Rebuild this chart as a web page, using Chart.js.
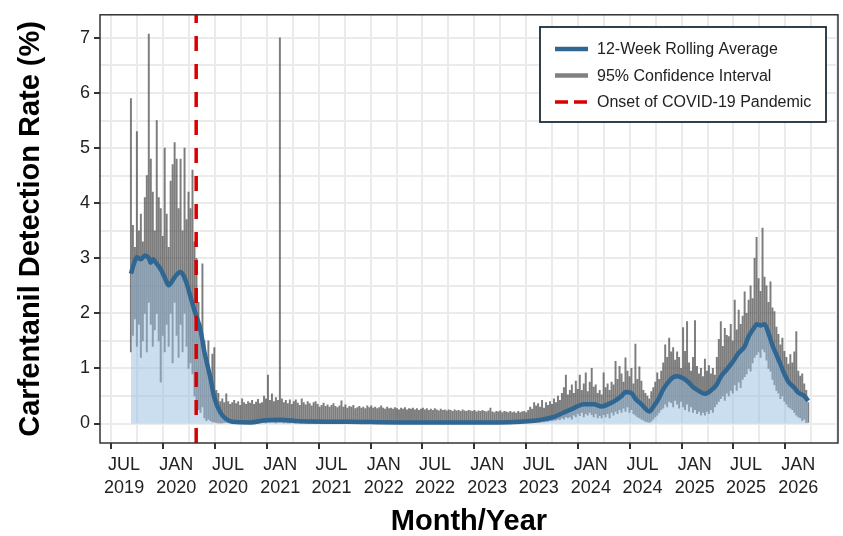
<!DOCTYPE html>
<html>
<head>
<meta charset="utf-8">
<script src="https://cdn.jsdelivr.net/npm/chart.js@4.4.1/dist/chart.umd.min.js"></script>
<style>
  html, body { margin: 0; padding: 0; background: #fff; }
  #wrap { width: 843px; height: 536px; }
</style>
</head>
<body>
<div id="wrap"><canvas id="chart" width="843" height="536"></canvas></div>
<script>
// Weekly series: week 0 starts on firstWeek, one value per week
const firstWeek = "2019-07-25";
const covidOnset = "2020-03-11";

// Major x ticks (JUL / JAN)
const tickMonths = [
  "2019-07-01", "2020-01-01", "2020-07-01", "2021-01-01", "2021-07-01",
  "2022-01-01", "2022-07-01", "2023-01-01", "2023-07-01", "2024-01-01",
  "2024-07-01", "2025-01-01", "2025-07-01", "2026-01-01"
];
const yTicks = [0, 1, 2, 3, 4, 5, 6, 7];

// 95% confidence interval, upper bound (%)
const ciHigh = [
  5.9, 3.6, 3.2, 5.3, 3.5, 3.8, 3.3, 4.1, 4.5, 7.07,
  4.8, 4.2, 3.5, 5.5, 4.1, 3.9, 3.4, 5.0, 3.8, 3.2,
  4.4, 4.7, 5.1, 4.8, 3.9, 4.8, 3.5, 5.0, 3.7, 4.2,
  3.9, 4.6, 3.3, 3.0, 2.2, 1.8, 2.9, 1.5, 1.1, 1.5,
  0.9, 1.26, 1.38, 0.6, 0.55, 0.4, 0.45, 0.38, 0.54, 0.4,
  0.35, 0.38, 0.42, 0.36, 0.4, 0.33, 0.45, 0.38, 0.35, 0.4,
  0.37, 0.42, 0.35, 0.39, 0.44, 0.36, 0.38, 0.5, 0.45, 0.88,
  0.42, 0.54, 0.4, 0.47, 0.42, 7.0, 0.45, 0.38, 0.42, 0.36,
  0.43, 0.35, 0.4, 0.43, 0.37, 0.33, 0.45, 0.38, 0.34, 0.4,
  0.36, 0.32, 0.38, 0.4, 0.35, 0.3, 0.33, 0.37, 0.31, 0.34,
  0.3, 0.33, 0.36, 0.31, 0.29, 0.32, 0.41, 0.3, 0.34, 0.28,
  0.31, 0.3, 0.33, 0.27, 0.29, 0.31, 0.28, 0.3, 0.27, 0.32,
  0.29, 0.32, 0.28, 0.3, 0.27, 0.29, 0.32, 0.28, 0.26, 0.3,
  0.27, 0.28, 0.26, 0.29, 0.27, 0.25, 0.28, 0.26, 0.29, 0.25,
  0.27, 0.26, 0.28, 0.25, 0.27, 0.24, 0.26, 0.28, 0.25, 0.27,
  0.24, 0.26, 0.24, 0.27, 0.25, 0.23, 0.26, 0.24, 0.25, 0.23,
  0.25, 0.24, 0.22, 0.25, 0.23, 0.24, 0.22, 0.25, 0.23, 0.22,
  0.24, 0.23, 0.22, 0.24, 0.21, 0.23, 0.22, 0.24, 0.22, 0.21,
  0.23, 0.28, 0.21, 0.2, 0.22, 0.21, 0.23, 0.2, 0.22, 0.21,
  0.2, 0.22, 0.2, 0.21, 0.19, 0.22, 0.2, 0.21, 0.22, 0.2,
  0.24, 0.3, 0.26, 0.38, 0.32, 0.36, 0.3, 0.42, 0.28, 0.38,
  0.33, 0.4, 0.35, 0.45, 0.38, 0.5, 0.42, 0.55, 0.65, 0.88,
  0.52, 0.6, 0.7, 0.55, 0.77, 0.62, 0.88, 0.6, 0.72, 0.92,
  0.58, 0.75, 1.0, 0.66, 0.7, 0.55, 0.6, 0.52, 0.92, 0.65,
  0.72, 0.6, 0.75, 0.7, 1.13, 0.8, 1.04, 0.9, 0.75, 1.19,
  0.95, 0.85, 1.0, 0.72, 1.44, 0.8, 1.03, 0.77, 0.6, 0.55,
  0.5, 0.45, 0.58, 0.65, 0.75, 0.92, 0.8, 0.95, 1.1, 1.43,
  1.2, 1.55, 1.3, 1.38, 1.15, 1.3, 1.2, 1.0, 1.74, 1.31,
  1.85, 1.1, 0.95, 1.2, 1.87, 1.04, 0.9, 1.0, 0.85, 1.17,
  0.95, 1.05, 0.9, 1.0, 0.88, 1.2, 1.53, 1.85, 1.4, 1.73,
  1.6, 1.58, 1.8, 1.5, 2.24, 1.7, 2.06, 1.8, 1.95, 2.39,
  2.0, 2.24, 2.5, 2.27, 3.0, 3.38, 2.63, 2.4, 3.55, 2.66,
  2.5, 2.2, 2.57, 2.1, 2.03, 1.75, 1.62, 1.43, 1.55, 1.31,
  1.2, 1.08, 1.25, 1.1, 1.3, 1.67, 0.95, 0.86, 0.9, 0.72,
  0.6, 0.38
];

// 95% confidence interval, lower bound (%)
const ciLow = [
  1.3, 1.6, 1.9, 1.4, 1.8, 1.2, 1.5, 2.0, 1.3, 2.2,
  1.8, 1.4, 1.7, 2.0, 1.5, 0.75, 1.6, 1.3, 1.8, 1.4,
  2.0, 1.1, 2.2, 1.6, 1.2, 1.8, 1.3, 2.0, 1.4, 1.0,
  1.1, 0.9, 0.5, 0.35, 0.25, 0.2, 0.3, 0.1, 0.05, 0.08,
  0.05, 0.03, 0.03, 0.02, 0.01, 0.01, 0.01, 0, 0, 0,
  0, 0.01, 0, 0.01, 0.01, 0, 0.01, 0, 0.01, 0,
  0.01, 0.02, 0.01, 0.02, 0.01, 0.02, 0.03, 0.02, 0.01, 0.03,
  0.02, 0.03, 0.02, 0.01, 0.02, 0, 0.02, 0.01, 0.02, 0.01,
  0.01, 0.02, 0.01, 0.01, 0.02, 0.01, 0.01, 0, 0.01, 0.01,
  0.01, 0, 0.01, 0.01, 0, 0.01, 0.01, 0, 0.01, 0,
  0.01, 0.01, 0, 0.01, 0, 0.01, 0.01, 0, 0, 0.01,
  0, 0.01, 0, 0, 0.01, 0, 0, 0.01, 0, 0,
  0.01, 0, 0, 0.01, 0, 0, 0.01, 0, 0, 0,
  0.01, 0, 0, 0, 0.01, 0, 0, 0, 0.01, 0,
  0, 0.01, 0, 0, 0, 0.01, 0, 0, 0, 0,
  0.01, 0, 0, 0, 0, 0.01, 0, 0, 0, 0,
  0, 0.01, 0, 0, 0, 0, 0.01, 0, 0, 0,
  0, 0, 0.01, 0, 0, 0, 0, 0.01, 0, 0,
  0, 0.01, 0, 0, 0.01, 0, 0, 0, 0.01, 0,
  0, 0.01, 0, 0.01, 0, 0.01, 0.01, 0.02, 0.01, 0.02,
  0.02, 0.02, 0.02, 0.03, 0.02, 0.02, 0.02, 0.03, 0.03, 0.04,
  0.04, 0.05, 0.05, 0.06, 0.06, 0.08, 0.07, 0.1, 0.08, 0.12,
  0.1, 0.12, 0.08, 0.15, 0.12, 0.18, 0.14, 0.2, 0.12, 0.18,
  0.15, 0.2, 0.16, 0.12, 0.18, 0.1, 0.14, 0.1, 0.16, 0.12,
  0.18, 0.1, 0.2, 0.15, 0.22, 0.18, 0.25, 0.2, 0.28, 0.22,
  0.3, 0.2, 0.25, 0.18, 0.15, 0.12, 0.1, 0.08, 0.06, 0.04,
  0.03, 0.02, 0.04, 0.08, 0.12, 0.15, 0.2, 0.25, 0.28, 0.35,
  0.3, 0.4, 0.38, 0.3, 0.42, 0.35, 0.28, 0.4, 0.3, 0.25,
  0.35, 0.22, 0.3, 0.2, 0.25, 0.18, 0.22, 0.15, 0.2, 0.15,
  0.22, 0.18, 0.25, 0.2, 0.3, 0.35, 0.4, 0.45, 0.5, 0.42,
  0.55, 0.5, 0.6, 0.55, 0.7, 0.6, 0.75, 0.65, 0.8, 0.85,
  0.9, 1.0, 0.95, 1.1, 1.2, 1.25, 1.3, 1.2, 1.35, 1.3,
  1.15, 1.0, 0.95, 0.8, 0.7, 0.6, 0.55, 0.45, 0.5, 0.4,
  0.35, 0.3, 0.28, 0.25, 0.2, 0.15, 0.12, 0.1, 0.05, 0.08,
  0.02, 0.0
];

// 12-week rolling average (%), read at these week numbers
const rollWeek = [
  0, 2, 3, 5, 7, 9, 10, 11, 13, 15, 17, 19, 21, 23, 25, 26, 28, 30, 32, 35,
  37, 40, 42, 45, 48, 51, 60, 68, 75, 85, 110, 135, 160, 185, 196, 203, 208, 213, 218, 223,
  228, 233, 237, 241, 244, 247, 249, 252, 254, 257, 261, 263, 266, 268, 271, 273, 275, 278, 281, 283,
  286, 289, 292, 295, 297, 300, 303, 306, 309, 311, 314, 315, 317, 319, 321, 323, 325, 327, 329, 331,
  334, 336, 339, 341
];
const rollAvg = [
  2.72, 2.95, 3.02, 2.98, 3.05, 3.0, 2.92, 2.98, 2.9, 2.8, 2.65, 2.51, 2.6, 2.7, 2.75, 2.72, 2.55, 2.3, 2.05, 1.7,
  1.3, 0.83, 0.47, 0.2, 0.08, 0.03, 0.02, 0.06, 0.07, 0.04, 0.03, 0.02, 0.02, 0.02, 0.03, 0.05, 0.08, 0.12, 0.2, 0.28,
  0.35, 0.35, 0.31, 0.36, 0.42, 0.5, 0.57, 0.55, 0.45, 0.35, 0.22, 0.3, 0.47, 0.62, 0.77, 0.84, 0.86, 0.82, 0.74, 0.66,
  0.59, 0.54, 0.6, 0.71, 0.85, 0.98, 1.12, 1.28, 1.4, 1.58, 1.75, 1.8, 1.78, 1.8, 1.64, 1.42, 1.25, 1.08, 0.9, 0.76,
  0.65, 0.56, 0.5, 0.41
];

const MONTHS = ["JAN","FEB","MAR","APR","MAY","JUN","JUL","AUG","SEP","OCT","NOV","DEC"];
const origin = Date.UTC(2019, 6, 1);
function dayNum(s) {
  const [y, m, d] = s.split("-").map(Number);
  return (Date.UTC(y, m - 1, d) - origin) / 86400000;
}
const week0 = dayNum(firstWeek);
const weekX = i => week0 + 7 * i;

// x ticks: majors + halfway minors
const majorX = tickMonths.map(dayNum);
const tickLabel = {};
tickMonths.forEach(s => {
  const [y, m] = s.split("-").map(Number);
  tickLabel[dayNum(s)] = [MONTHS[m - 1], String(y)];
});
const xMin = -85, xMax = 2516;
let xGrid = [...majorX];
for (let i = 0; i < majorX.length - 1; i++) xGrid.push((majorX[i] + majorX[i + 1]) / 2);
xGrid.push(majorX[majorX.length - 1] + (majorX[1] - majorX[0]) / 2);
xGrid = xGrid.filter(v => v >= xMin && v <= xMax).sort((a, b) => a - b);

const yMin = -0.354, yMax = 7.42;
const yGrid = [];
yTicks.forEach((v, i) => { yGrid.push(v); if (i < yTicks.length - 1) yGrid.push(v + 0.5); });

const ciData = ciHigh.map((h, i) => ({ x: weekX(i), y: [ciLow[i], h] }));
const rollData = rollWeek.map((w, i) => ({ x: weekX(w), y: rollAvg[i] }));
const covidX = dayNum(covidOnset);

const FONT = "'Liberation Sans', Arial, Helvetica, sans-serif";
Chart.defaults.font.family = FONT;
Chart.defaults.color = "#222";

// panel frame and legend box inside the plot
const frameLegend = {
  id: "frameLegend",
  afterDatasetsDraw(chart) {
    const { ctx, chartArea: a } = chart;
    ctx.save();
    ctx.strokeStyle = "#333";
    ctx.lineWidth = 1.5;
    ctx.strokeRect(a.left, a.top, a.right - a.left, a.bottom - a.top);

    const bx = 540, by = 27, bw = 286, bh = 95;
    ctx.fillStyle = "#fff";
    ctx.fillRect(bx, by, bw, bh);
    ctx.strokeStyle = "#1c2b3a";
    ctx.lineWidth = 1.8;
    ctx.strokeRect(bx, by, bw, bh);

    const rows = [
      { label: "12-Week Rolling Average", color: "#2f6792", width: 4.5, dash: [] },
      { label: "95% Confidence Interval", color: "#808080", width: 4.5, dash: [] },
      { label: "Onset of COVID-19 Pandemic", color: "#d90000", width: 3.5, dash: [13, 6] }
    ];
    ctx.font = "16px " + FONT;
    ctx.textBaseline = "middle";
    rows.forEach((r, i) => {
      const y = 49 + i * 26.5;
      ctx.beginPath();
      ctx.setLineDash(r.dash);
      ctx.strokeStyle = r.color;
      ctx.lineWidth = r.width;
      ctx.moveTo(555, y);
      ctx.lineTo(588, y);
      ctx.stroke();
      ctx.setLineDash([]);
      ctx.fillStyle = "#222";
      ctx.fillText(r.label, 597, y + 1);
    });
    ctx.restore();
  }
};

new Chart(document.getElementById("chart"), {
  type: "bar",
  data: {
    datasets: [
      {
        type: "line",
        label: "Onset of COVID-19 Pandemic",
        data: [{ x: covidX, y: yMin }, { x: covidX, y: yMax }],
        borderColor: "#d90000",
        borderWidth: 3.5,
        borderDash: [15, 13],
        pointRadius: 0,
        order: 1
      },
      {
        type: "line",
        label: "12-Week Rolling Average",
        data: rollData,
        borderColor: "#2f6792",
        borderWidth: 4.5,
        backgroundColor: "rgba(150, 190, 226, 0.5)",
        fill: "origin",
        pointRadius: 0,
        cubicInterpolationMode: "monotone",
        order: 2
      },
      {
        type: "bar",
        label: "95% Confidence Interval",
        data: ciData,
        backgroundColor: "rgba(70, 70, 70, 0.7)",
        borderWidth: 0,
        barThickness: 1.3,
        grouped: false,
        order: 3
      }
    ]
  },
  options: {
    responsive: false,
    animation: false,
    devicePixelRatio: 1,
    layout: { padding: { left: 0, right: 5, top: 10, bottom: 0 } },
    plugins: { legend: { display: false }, tooltip: { enabled: false } },
    scales: {
      x: {
        type: "linear",
        min: xMin,
        max: xMax,
        offset: false,
        afterBuildTicks: scale => { scale.ticks = xGrid.map(v => ({ value: v })); },
        afterFit: scale => { scale.height = 93; },
        ticks: {
          autoSkip: false,
          maxRotation: 0,
          padding: 5,
          font: { size: 18, lineHeight: 1.25 },
          color: "#222",
          callback: v => tickLabel[v] || ""
        },
        grid: {
          color: "#ebebeb",
          lineWidth: 2,
          tickLength: 6,
          tickWidth: 2,
          tickColor: ctx => (ctx.tick && tickLabel[ctx.tick.value]) ? "#333" : "rgba(0,0,0,0)"
        },
        border: { display: false },
        title: {
          display: true,
          text: "Month/Year",
          font: { size: 29, weight: "bold", lineHeight: 1.0 },
          color: "#000",
          padding: { top: 0, bottom: 0 }
        }
      },
      y: {
        min: yMin,
        max: yMax,
        afterBuildTicks: scale => { scale.ticks = yGrid.map(v => ({ value: v })); },
        afterFit: scale => { scale.width = 100; },
        ticks: {
          padding: 4,
          font: { size: 18 },
          color: "#222",
          callback: v => (Number.isInteger(v) ? String(v) : "")
        },
        grid: {
          color: "#ebebeb",
          lineWidth: 2,
          tickLength: 6,
          tickWidth: 2,
          tickColor: ctx => (ctx.tick && Number.isInteger(ctx.tick.value)) ? "#333" : "rgba(0,0,0,0)"
        },
        border: { display: false },
        title: {
          display: true,
          text: "Carfentanil Detection Rate (%)",
          font: { size: 29, weight: "bold", lineHeight: 1.2 },
          color: "#000",
          padding: { top: 14, bottom: 0 }
        }
      }
    }
  },
  plugins: [frameLegend]
});
</script>
</body>
</html>
